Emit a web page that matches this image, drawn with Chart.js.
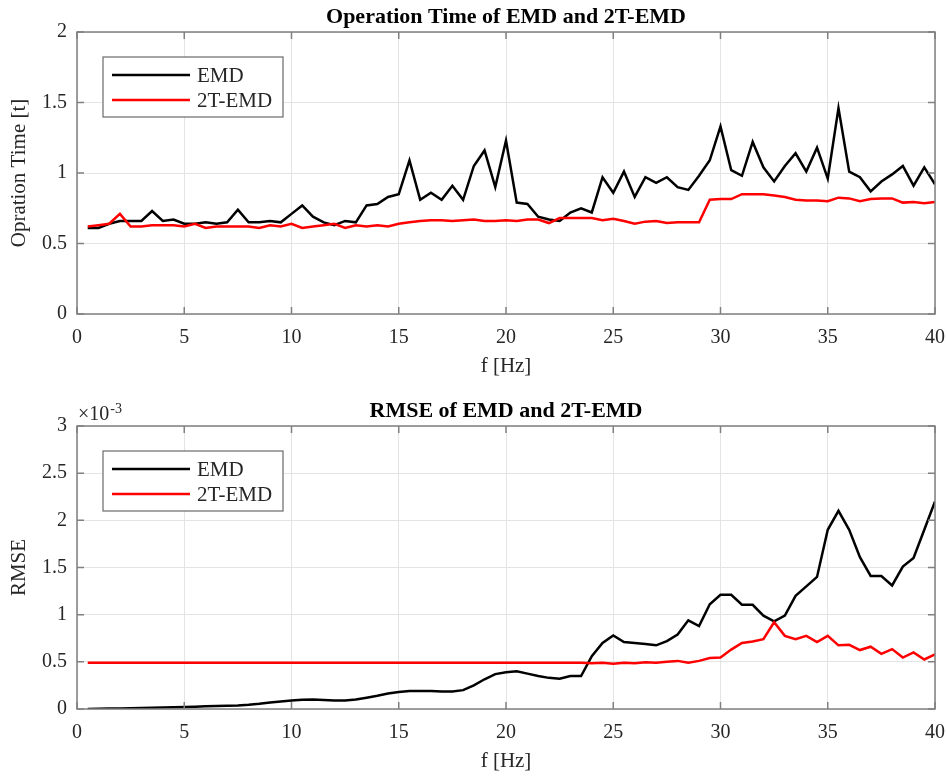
<!DOCTYPE html>
<html>
<head>
<meta charset="utf-8">
<script src="https://cdn.jsdelivr.net/npm/chart.js@4.4.1/dist/chart.umd.min.js"></script>
<style>
  html, body { margin: 0; padding: 0; background: #fff; }
  #wrap { position: relative; width: 947px; height: 778px; }
  canvas { position: absolute; left: 0; }
  #timeChart { top: 0; }
  #rmseChart { top: 389px; }
</style>
</head>
<body>
<div id="wrap">
  <canvas id="timeChart" width="947" height="389"></canvas>
  <canvas id="rmseChart" width="947" height="389"></canvas>
</div>
<script>
// frequency [Hz]
const freq = [
  0.5, 1, 1.5, 2, 2.5, 3, 3.5, 4, 4.5, 5,
  5.5, 6, 6.5, 7, 7.5, 8, 8.5, 9, 9.5, 10,
  10.5, 11, 11.5, 12, 12.5, 13, 13.5, 14, 14.5, 15,
  15.5, 16, 16.5, 17, 17.5, 18, 18.5, 19, 19.5, 20,
  20.5, 21, 21.5, 22, 22.5, 23, 23.5, 24, 24.5, 25,
  25.5, 26, 26.5, 27, 27.5, 28, 28.5, 29, 29.5, 30,
  30.5, 31, 31.5, 32, 32.5, 33, 33.5, 34, 34.5, 35,
  35.5, 36, 36.5, 37, 37.5, 38, 38.5, 39, 39.5, 40
];
const xTicks = [0, 5, 10, 15, 20, 25, 30, 35, 40];
const timeTicks = [0, 0.5, 1, 1.5, 2];
const rmseTicks = [0, 0.5, 1, 1.5, 2, 2.5, 3]; // x10^-3

// operation time [t]
const emdTime = [
  0.61, 0.61, 0.64, 0.66, 0.66, 0.66, 0.73, 0.66, 0.67, 0.64,
  0.64, 0.65, 0.64, 0.65, 0.74, 0.65, 0.65, 0.66, 0.65, 0.71,
  0.77, 0.69, 0.65, 0.63, 0.66, 0.65, 0.77, 0.78, 0.83, 0.85,
  1.09, 0.81, 0.86, 0.81, 0.91, 0.81, 1.05, 1.16, 0.90, 1.23,
  0.79, 0.78, 0.69, 0.67, 0.66, 0.72, 0.75, 0.72, 0.97, 0.86,
  1.01, 0.83, 0.97, 0.93, 0.97, 0.90, 0.88, 0.98, 1.09, 1.33,
  1.02, 0.98, 1.22, 1.04, 0.94, 1.05, 1.14, 1.01, 1.18, 0.96,
  1.46, 1.01, 0.97, 0.87, 0.94, 0.99, 1.05, 0.91, 1.04, 0.92
];
const t2emdTime = [
  0.62, 0.63, 0.64, 0.71, 0.62, 0.62, 0.63, 0.63, 0.63, 0.62,
  0.64, 0.61, 0.62, 0.62, 0.62, 0.62, 0.61, 0.63, 0.62, 0.64,
  0.61, 0.62, 0.63, 0.64, 0.61, 0.63, 0.62, 0.63, 0.62, 0.64,
  0.65, 0.66, 0.665, 0.665, 0.66, 0.665, 0.67, 0.66, 0.66, 0.665,
  0.66, 0.67, 0.67, 0.645, 0.68, 0.68, 0.68, 0.68, 0.665, 0.675,
  0.66, 0.64, 0.655, 0.66, 0.645, 0.65, 0.65, 0.65, 0.81, 0.815,
  0.815, 0.85, 0.85, 0.85, 0.84, 0.83, 0.81, 0.805, 0.805, 0.80,
  0.825, 0.82, 0.80, 0.815, 0.82, 0.82, 0.79, 0.795, 0.785, 0.795
];

// RMSE, in units of 10^-3
const emdRmse = [
  0.000, 0.002, 0.004, 0.006, 0.008, 0.010, 0.013, 0.016, 0.019, 0.022,
  0.025, 0.028, 0.031, 0.034, 0.038, 0.045, 0.055, 0.068, 0.080, 0.090,
  0.097, 0.100, 0.095, 0.090, 0.090, 0.100, 0.120, 0.140, 0.165, 0.180,
  0.190, 0.190, 0.190, 0.185, 0.185, 0.200, 0.250, 0.315, 0.370, 0.390,
  0.400, 0.375, 0.350, 0.330, 0.320, 0.350, 0.350, 0.560, 0.700, 0.780,
  0.710, 0.700, 0.690, 0.675, 0.720, 0.790, 0.940, 0.880, 1.110, 1.210,
  1.210, 1.105, 1.105, 0.990, 0.930, 0.990, 1.200, 1.300, 1.400, 1.900,
  2.100, 1.900, 1.610, 1.410, 1.410, 1.310, 1.510, 1.600, 1.900, 2.200
];
const t2emdRmse = [
  0.49, 0.49, 0.49, 0.49, 0.49, 0.49, 0.49, 0.49, 0.49, 0.49,
  0.49, 0.49, 0.49, 0.49, 0.49, 0.49, 0.49, 0.49, 0.49, 0.49,
  0.49, 0.49, 0.49, 0.49, 0.49, 0.49, 0.49, 0.49, 0.49, 0.49,
  0.49, 0.49, 0.49, 0.49, 0.49, 0.49, 0.49, 0.49, 0.49, 0.49,
  0.49, 0.49, 0.49, 0.49, 0.49, 0.49, 0.49, 0.485, 0.49, 0.48,
  0.49, 0.485, 0.495, 0.49, 0.50, 0.51, 0.49, 0.51, 0.54, 0.545,
  0.63, 0.70, 0.715, 0.74, 0.92, 0.775, 0.74, 0.775, 0.71, 0.775,
  0.675, 0.68, 0.625, 0.66, 0.585, 0.635, 0.545, 0.60, 0.525, 0.58
];

const SERIF = "'Liberation Serif', 'Times New Roman', serif";
const AXIS_GRAY = '#808080';
const TEXT = '#262626';

// matlab style box, inner ticks, legend and exponent
const matlabAxes = {
  id: 'matlabAxes',
  afterDatasetsDraw(chart, args, opts) {
    const { ctx, chartArea: a, scales: { x, y } } = chart;
    ctx.save();
    ctx.strokeStyle = AXIS_GRAY;
    ctx.lineWidth = 1.5;
    ctx.strokeRect(a.left, a.top, a.right - a.left, a.bottom - a.top);
    const tl = 7;
    ctx.beginPath();
    x.ticks.forEach(t => {
      const px = x.getPixelForValue(t.value);
      ctx.moveTo(px, a.bottom); ctx.lineTo(px, a.bottom - tl);
      ctx.moveTo(px, a.top); ctx.lineTo(px, a.top + tl);
    });
    y.ticks.forEach(t => {
      const py = y.getPixelForValue(t.value);
      ctx.moveTo(a.left, py); ctx.lineTo(a.left + tl, py);
      ctx.moveTo(a.right, py); ctx.lineTo(a.right - tl, py);
    });
    ctx.stroke();

    // legend
    const lx = a.left + 26, ly = a.top + 25, lw = 180, lh = 60;
    ctx.fillStyle = '#fff';
    ctx.fillRect(lx, ly, lw, lh);
    ctx.strokeStyle = '#6a6a6a';
    ctx.lineWidth = 1.2;
    ctx.strokeRect(lx, ly, lw, lh);
    ctx.font = '21px ' + SERIF;
    ctx.textBaseline = 'middle';
    ctx.textAlign = 'left';
    chart.data.datasets.forEach((ds, i) => {
      const cy = ly + 18 + i * 25;
      ctx.strokeStyle = ds.borderColor;
      ctx.lineWidth = ds.borderWidth;
      ctx.beginPath();
      ctx.moveTo(lx + 9, cy);
      ctx.lineTo(lx + 87, cy);
      ctx.stroke();
      ctx.fillStyle = TEXT;
      ctx.fillText(ds.label, lx + 94, cy + 1);
    });

    if (opts.exponent) {
      ctx.fillStyle = TEXT;
      ctx.textBaseline = 'alphabetic';
      ctx.font = '20px ' + SERIF;
      ctx.fillText('\u00d710', a.left + 1, a.top - 6);
      const w = ctx.measureText('\u00d710').width;
      ctx.font = '14px ' + SERIF;
      ctx.fillText(opts.exponent, a.left + 2 + w, a.top - 13);
    }
    ctx.restore();
  }
};

function makeChart(id, o) {
  const tickFont = { family: SERIF, size: 20 };
  const labelFont = { family: SERIF, size: 21 };
  return new Chart(document.getElementById(id), {
    type: 'line',
    data: {
      datasets: [
        {
          label: 'EMD',
          data: freq.map((f, i) => ({ x: f, y: o.emd[i] })),
          borderColor: '#000000',
          borderWidth: 2.5,
          pointRadius: 0,
          order: 1
        },
        {
          label: '2T-EMD',
          data: freq.map((f, i) => ({ x: f, y: o.t2emd[i] })),
          borderColor: '#ff0000',
          borderWidth: 2.5,
          pointRadius: 0,
          order: 0
        }
      ]
    },
    options: {
      responsive: false,
      animation: false,
      devicePixelRatio: 1,
      layout: { padding: { left: 0, right: 12, top: 0, bottom: 0 } },
      plugins: {
        legend: { display: false },
        tooltip: { enabled: false },
        title: {
          display: true,
          text: o.title,
          fullSize: false,
          color: '#000',
          font: { family: SERIF, size: 22, weight: 'bold' },
          padding: o.titlePad
        },
        matlabAxes: { exponent: o.exponent }
      },
      scales: {
        x: {
          type: 'linear',
          min: 0,
          max: 40,
          afterBuildTicks: s => { s.ticks = xTicks.map(v => ({ value: v })); },
          afterFit: s => { s.height = o.xHeight; s.paddingLeft = 0; s.paddingRight = 0; },
          grid: { color: '#e4e4e4', drawTicks: false },
          border: { display: false },
          ticks: { padding: 12, color: TEXT, font: tickFont, maxRotation: 0, callback: v => String(v) },
          title: { display: true, text: 'f [Hz]', color: TEXT, font: labelFont, padding: { top: 0, bottom: o.xTitlePad } }
        },
        y: {
          min: 0,
          max: o.yMax,
          afterBuildTicks: s => { s.ticks = o.yTicks.map(v => ({ value: v })); },
          afterFit: s => { s.width = 77; s.paddingTop = 0; s.paddingBottom = 0; },
          grid: { color: '#e4e4e4', drawTicks: false },
          border: { display: false },
          ticks: { padding: 10, color: TEXT, font: tickFont, callback: v => String(v) },
          title: { display: true, text: o.yLabel, color: TEXT, font: labelFont, padding: { top: 6.4, bottom: 0 } }
        }
      }
    },
    plugins: [matlabAxes]
  });
}

makeChart('timeChart', {
  title: 'Operation Time of EMD and 2T-EMD',
  titlePad: { top: 4, bottom: 1.6 },
  emd: emdTime,
  t2emd: t2emdTime,
  yTicks: timeTicks,
  yMax: 2,
  yLabel: 'Opration Time [t]',
  xHeight: 75,
  xTitlePad: 10.4
});

makeChart('rmseChart', {
  title: 'RMSE of EMD and 2T-EMD',
  titlePad: { top: 8.8, bottom: 1.8 },
  emd: emdRmse,
  t2emd: t2emdRmse,
  yTicks: rmseTicks,
  yMax: 3,
  yLabel: 'RMSE',
  xHeight: 69,
  xTitlePad: 4.4,
  exponent: '-3'
});
</script>
</body>
</html>
